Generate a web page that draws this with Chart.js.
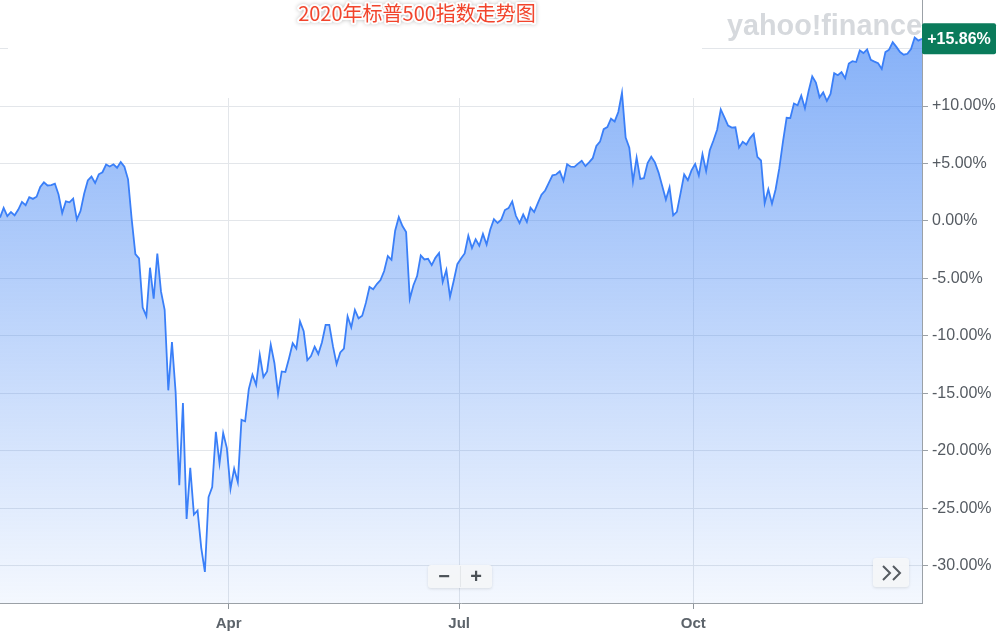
<!DOCTYPE html>
<html><head><meta charset="utf-8">
<script src="https://cdn.jsdelivr.net/npm/chart.js@4.4.1/dist/chart.umd.min.js"></script>
<style>html,body{margin:0;padding:0;background:#fff;}canvas{display:block;}</style>
</head><body>
<canvas id="c" width="1000" height="634"></canvas>
<script>
// Texts
const titleText = '2020年标普500指数走势图';
const logoText = 'yahoo!finance';

// S&P 500 % change, one array per month (trading days)
const dec2019 = [0.29];
const jan = [1.13,0.42,0.78,0.49,0.99,1.66,1.37,2.07,1.92,2.11,2.97,3.36,3.09,3.12,3.24,2.30,0.69,1.71,1.62,1.94,0.13];
const feb = [0.86,2.37,3.52,3.86,3.30,4.06,4.24,4.91,4.74,4.93,4.63,5.12,4.72,3.62,0.14,-2.89,-3.26,-7.53,-8.29];
const mar = [-4.07,-6.77,-2.83,-6.13,-7.73,-14.74,-10.53,-14.90,-22.99,-15.84,-25.93,-21.49,-25.55,-25.20,-28.45,-30.54,-24.03,-23.15,-18.35,-21.10,-18.46,-19.77];
const apr = [-23.31,-21.56,-22.74,-17.31,-17.44,-14.63,-13.39,-14.27,-11.65,-13.59,-13.09,-10.76,-12.36,-15.05,-13.10,-13.15,-11.94,-10.64,-11.11,-8.75,-9.59];
const may = [-12.12,-11.75,-10.95,-11.58,-10.56,-9.05,-9.04,-10.90,-12.46,-11.45,-11.10,-8.30,-9.26,-7.75,-8.47,-8.25,-7.13,-5.75,-5.95,-5.49];
const jun = [-5.14,-4.36,-3.06,-3.38,-0.85,0.34,-0.44,-0.97,-6.80,-5.59,-4.80,-3.00,-3.35,-3.29,-3.84,-3.21,-2.79,-5.31,-4.27,-6.59,-5.22,-3.76];
const jul = [-3.27,-2.83,-1.29,-2.36,-1.59,-2.15,-1.13,-2.05,-0.74,0.16,-0.18,0.11,0.95,1.12,1.70,0.45,-0.18,0.56,-0.09,1.15,0.77,1.55];
const aug = [2.28,2.65,3.31,3.97,4.04,4.32,3.49,4.94,4.72,4.70,4.99,5.23,4.77,5.10,5.46,6.52,6.90,7.99,8.17,8.90,8.66];
const sep = [9.48,11.16,7.26,6.38,3.43,5.52,3.66,3.72,5.04,5.59,5.10,4.21,3.05,1.86,2.93,0.49,0.79,2.40,4.05,3.54,4.40];
const oct = [4.95,3.95,5.81,4.34,6.15,7.00,7.94,9.71,9.02,8.30,8.13,8.15,6.38,6.89,6.65,7.21,7.58,5.58,5.26,1.54,2.76,1.51];
const nov = [2.76,4.59,6.90,8.98,8.95,10.22,10.07,10.91,9.80,11.30,12.59,12.05,10.76,11.19,10.44,11.06,12.86,12.68,12.95,12.43];
const dec = [13.70,13.90,13.83,14.83,14.61,14.93,14.02,13.87,13.73,13.23,14.69,14.90,15.56,15.15,14.70,14.47,14.55,14.96,15.96,15.70,15.86];

const monthNames = ['Dec','Jan','Feb','Mar','Apr','May','Jun','Jul','Aug','Sep','Oct','Nov','Dec'];
const monthSeries = [dec2019,jan,feb,mar,apr,may,jun,jul,aug,sep,oct,nov,dec];
const xTickLabels = ['Apr','Jul','Oct'];
const yTicks = [-30,-25,-20,-15,-10,-5,0,5,10,15];

// Build from arrays
const values = [].concat(...monthSeries);
const points = values.map((v,i)=>({x:i,y:v}));
const monthStart = [];
{ let s=0; monthSeries.forEach(m=>{monthStart.push(s); s+=m.length;}); }
const xTicks = xTickLabels.map(l=>{ const k = monthNames.indexOf(l,1); return {value: monthStart[k]-0.5, label:l}; });

const fmtPct = v => (v>0?'+':'') + v.toFixed(2) + '%';

const decor = {
  id:'decor',
  beforeDatasetsDraw(chart){
    const ctx = chart.ctx;
    ctx.save();
    ctx.fillStyle = '#ffffff';
    ctx.fillRect(8,0,694,98);
    ctx.font = 'bold 29px "Liberation Sans", Arial, sans-serif';
    ctx.fillStyle = '#d6d9dd';
    ctx.textBaseline = 'alphabetic';
    const w = ctx.measureText(logoText).width;
    ctx.translate(727,35);
    ctx.scale(195/w,1);
    ctx.fillText(logoText,0,0);
    ctx.restore();
  },
  afterDraw(chart){
    const ctx = chart.ctx;
    const area = chart.chartArea;
    ctx.save();
    // title
    ctx.font = '20px "Noto Sans CJK SC", sans-serif';
    ctx.textAlign = 'center';
    ctx.textBaseline = 'middle';
    ctx.lineJoin = 'round';
    ctx.strokeStyle = 'rgba(255,255,255,0.95)';
    ctx.lineWidth = 4;
    ctx.shadowColor = 'rgba(0,0,0,0.25)';
    ctx.shadowBlur = 4;
    ctx.strokeText(titleText, 417, 13);
    ctx.shadowColor = 'transparent';
    ctx.fillStyle = '#f2442c';
    ctx.fillText(titleText, 417, 13);

    // last value badge
    const last = values[values.length-1];
    const yy = chart.scales.y.getPixelForValue(last);
    ctx.fillStyle = '#0a7b5b';
    ctx.beginPath();
    ctx.roundRect(area.right, yy-15.5, 74, 31, 2);
    ctx.fill();
    ctx.fillStyle = '#ffffff';
    ctx.font = 'bold 16px "Liberation Sans", Arial, sans-serif';
    ctx.textAlign = 'center';
    ctx.fillText(fmtPct(last), area.right+37, yy+1);

    // zoom buttons
    const btn = (x,y,w,h)=>{
      ctx.save();
      ctx.shadowColor='rgba(0,0,0,0.12)'; ctx.shadowBlur=3; ctx.shadowOffsetY=1;
      ctx.fillStyle='rgba(246,248,250,0.95)';
      ctx.beginPath(); ctx.roundRect(x,y,w,h,3); ctx.fill();
      ctx.restore();
    };
    btn(428,565,64,23);
    ctx.strokeStyle='#e4e7ea'; ctx.lineWidth=1;
    ctx.beginPath(); ctx.moveTo(460.5,566); ctx.lineTo(460.5,587); ctx.stroke();
    ctx.fillStyle='#4b5157';
    ctx.font='bold 20px "Liberation Sans", Arial, sans-serif';
    ctx.textAlign='center'; ctx.textBaseline='middle';
    ctx.fillText('−',444,577);
    ctx.fillText('+',476,577);
    btn(873,558,36,29);
    ctx.strokeStyle='#555b61'; ctx.lineWidth=2; ctx.lineJoin='miter';
    ctx.beginPath();
    ctx.moveTo(883,566); ctx.lineTo(890,573); ctx.lineTo(883,580);
    ctx.moveTo(893,566); ctx.lineTo(900,573); ctx.lineTo(893,580);
    ctx.stroke();
    ctx.restore();
  }
};

new Chart(document.getElementById('c'), {
  type:'line',
  data:{ datasets:[{
    data: points,
    borderColor:'#3a7ff8',
    borderWidth:1.8,
    pointRadius:0,
    tension:0,
    fill:'start',
    backgroundColor:(ctx)=>{
      const a = ctx.chart.chartArea;
      if(!a) return 'rgba(66,133,244,0.3)';
      const g = ctx.chart.ctx.createLinearGradient(0,a.top,0,a.bottom);
      g.addColorStop(0,'rgba(66,133,244,0.68)');
      g.addColorStop(1,'rgba(66,133,244,0.06)');
      return g;
    }
  }]},
  options:{
    responsive:false,
    animation:false,
    devicePixelRatio:1,
    layout:{padding:0},
    events:[],
    plugins:{legend:{display:false}, tooltip:{enabled:false}, title:{display:false}},
    scales:{
      x:{
        type:'linear', min:0, max:values.length-1,
        afterBuildTicks:(s)=>{ s.ticks = xTicks.map(t=>({value:t.value})); },
        afterFit:(s)=>{ s.height=31; s.paddingLeft=0; s.paddingRight=0; },
        grid:{color:'#e3e6ea', lineWidth:1, drawTicks:true, tickLength:6, tickColor:'#8f959b'},
        border:{display:true, color:'#9ba1a7', width:1},
        ticks:{
          autoSkip:false, maxRotation:0, padding:6,
          color:'#5c636a',
          font:{family:'"Liberation Sans", Arial, sans-serif', size:15, weight:'bold'},
          callback:(v)=>{ const t = xTicks.find(t=>Math.abs(t.value-v)<1e-6); return t?t.label:''; }
        }
      },
      y:{
        position:'right', min:-33.25, max:19.23,
        afterBuildTicks:(s)=>{ s.ticks = yTicks.map(v=>({value:v})); },
        afterFit:(s)=>{ s.width=78; s.paddingTop=0; s.paddingBottom=0; },
        grid:{color:'#e3e6ea', lineWidth:1, drawTicks:true, tickLength:6, tickColor:'#9ba1a7'},
        border:{display:true, color:'#9ba1a7', width:1},
        ticks:{
          padding:4, color:'#555b62',
          font:{family:'"Liberation Sans", Arial, sans-serif', size:16},
          callback:(v)=> v===yTicks[yTicks.length-1] ? '' : fmtPct(v)
        }
      }
    }
  },
  plugins:[decor]
});
</script>
</body></html>
